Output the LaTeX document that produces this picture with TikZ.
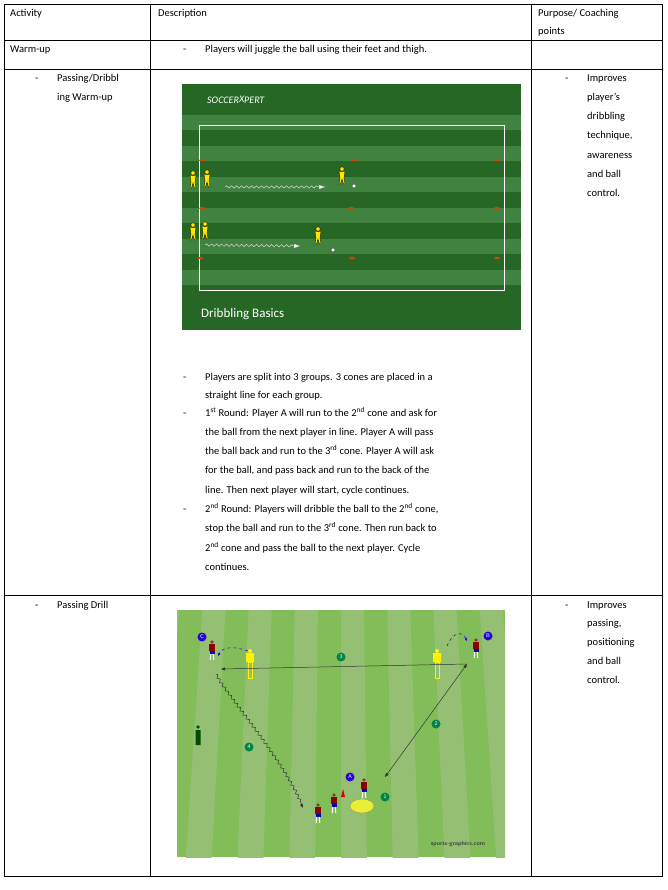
\documentclass[tikz,border=0pt]{standalone}
\usepackage{fontspec}
\setmainfont{Carlito}
\usetikzlibrary{decorations.pathmorphing,arrows.meta}
\begin{document}
\begin{tikzpicture}[x=1pt,y=-1pt,
  txt/.style={anchor=base west,inner sep=0pt,font=\fontsize{10.5}{13}\selectfont},
  grid/.style={line width=0.8pt},
  cone/.style={fill=orange!70!red!80!black,draw=none},
  wav/.style={draw=white!85!black,line width=0.5pt,decorate,decoration={snake,amplitude=1.2pt,segment length=5pt,post length=6pt},-{Triangle[length=6pt,width=4pt,fill=white]}},
  ypl/.pic={\fill[yellow!90!orange,draw=black,line width=0.3pt] (0,-9) circle (2.2) (-3,-6.5) -- (3,-6.5) -- (2,0) -- (3,6) -- (1.5,6) -- (0,1) -- (-1.5,6) -- (-3,6) -- (-2,0) -- cycle;},
  rpl/.pic={\fill[brown!60!black] (0,-10) circle (1.8);\fill[red!55!black] (-3,-8) rectangle (3,-1);\fill[blue!70!black] (-2.5,-1) rectangle (2.5,2);\draw[white,line width=1pt] (-1.3,2) -- (-1.8,8) (1.3,2) -- (1.8,8);},
  lab/.style={circle,inner sep=0pt,minimum size=9pt,font=\fontsize{5.5}{6}\sffamily\selectfont,text=white},
  blab/.style={lab,fill=blue!70!violet},
  glab/.style={lab,fill=teal!70!green!80!black},
  pth/.style={line width=0.5pt,black!80}]
\useasboundingbox (0,0) rectangle (668,890);
\fill[white] (0,0) rectangle (668,890);
% table
\draw[grid] (4,4) rectangle (662,876);
\draw[grid] (150,4) -- (150,876) (531,4) -- (531,876);
\draw[grid] (4,40) -- (662,40) (4,69) -- (662,69) (4,595) -- (662,595);
\node[txt] (h1) at (10,17) {Activity};
\node[txt] (h2) at (158,17) {Description};
\node[txt] (h3) at (538,17) {Purpose/ Coaching};
\node[txt] (h3b) at (538,35) {points};
\node[txt] (w1) at (10,53) {Warm-up};
\node[txt] (w2d) at (183,53) {-};
\node[txt] (w2) at (205,53) {Players will juggle the ball using their feet and thigh.};
\node[txt] (p1d) at (35,82) {-};
\node[txt] (p1) at (57,82) {Passing/Dribbl};
\node[txt] (p1b) at (57,101) {ing Warm-up};
\node[txt] (r1d) at (565,82) {-};
\foreach \t [count=\i from 0] in {Improves,player’s,dribbling,technique,,awareness,and ball,control.}{}
\node[txt] (r1a) at (587,82) {Improves};
\node[txt] (r1b) at (587,101) {player’s};
\node[txt] (r1c) at (587,120) {dribbling};
\node[txt] (r1e) at (587,139) {technique,};
\node[txt] (r1f) at (587,159) {awareness};
\node[txt] (r1g) at (587,178) {and ball};
\node[txt] (r1h) at (587,197) {control.};
% description bullets
\node[txt] (d1) at (183,380) {-};
\node[txt] (d1t) at (205,380) {Players are split into 3 groups. 3 cones are placed in a};
\node[txt] (d1u) at (205,398) {straight line for each group.};
\node[txt] (d2) at (183,416) {-};
\node[txt] (d2t) at (205,416) {1\textsuperscript{st} Round: Player A will run to the 2\textsuperscript{nd} cone and ask for};
\node[txt] (d2u) at (205,435) {the ball from the next player in line. Player A will pass};
\node[txt] (d2v) at (205,454) {the ball back and run to the 3\textsuperscript{rd} cone. Player A will ask};
\node[txt] (d2w) at (205,473) {for the ball, and pass back and run to the back of the};
\node[txt] (d2x) at (205,493) {line. Then next player will start, cycle continues.};
\node[txt] (d3) at (183,512) {-};
\node[txt] (d3t) at (205,512) {2\textsuperscript{nd} Round: Players will dribble the ball to the 2\textsuperscript{nd} cone,};
\node[txt] (d3u) at (205,531) {stop the ball and run to the 3\textsuperscript{rd} cone. Then run back to};
\node[txt] (d3v) at (205,551) {2\textsuperscript{nd} cone and pass the ball to the next player. Cycle};
\node[txt] (d3w) at (205,570) {continues.};
% row 4
\node[txt] (q1d) at (35,608) {-};
\node[txt] (q1) at (57,608) {Passing Drill};
\node[txt] (q2d) at (565,608) {-};
\node[txt] (q2a) at (587,608) {Improves};
\node[txt] (q2b) at (587,626) {passing,};
\node[txt] (q2c) at (587,645) {positioning};
\node[txt] (q2d2) at (587,664) {and ball};
\node[txt] (q2e) at (587,683) {control.};
% picture 1
\fill[green!30!black!85] (182,84) rectangle (521,330);
\foreach \y in {115,146,177,208,239,270}{\fill[green!35!black!75] (182,\y) rectangle (521,\y+15);}
\fill[green!30!black!85] (182,300) rectangle (521,330);
\draw[white,line width=1pt] (199,126) rectangle (504,290);
\node[anchor=west,text=white,font=\itshape\fontsize{10}{10}\selectfont,inner sep=0] (logo) at (207,100) {SOCCER\raisebox{1pt}{X}PERT};
\node[anchor=west,text=white,font=\fontsize{13}{13}\selectfont,inner sep=0] (tt) at (201,314) {Dribbling Basics};
\foreach \x/\y in {202/160,354/160,497/160,202/208,351/208,497/208,200/258,352/258,497/258}{\fill[cone] (\x-3,\y+1) -- (\x-2,\y-1) -- (\x+2,\y-1) -- (\x+3,\y+1) -- cycle;}
\foreach \x/\y in {193/182,207/181,193/234,205/233,342/178,318/238}{\pic at (\x,\y) {ypl};}
\coordinate (a1) at (225,187); \coordinate (a2) at (325,187);
\coordinate (b1) at (205,245); \coordinate (b2) at (300,246);
\draw[wav] (a1) -- (a2);
\draw[wav] (b1) -- (b2);
\fill[white,draw=black,line width=0.2pt] (354,186) circle (2) (333,250) circle (2);
% picture 2
\fill[green!45!lime!60!black!65] (177,610) rectangle (505,857);
\begin{scope}
\clip (177,610) rectangle (505,857);
\foreach \i in {-7,...,7}{\fill[green!40!lime!55!black!55] (341+\i*46,600) -- (341+\i*46+23,600) -- (341+\i*52+26,870) -- (341+\i*52,870) -- cycle;}
\end{scope}
\pic at (212,652) {rpl};
\pic at (476,650) {rpl};
\pic at (364,790) {rpl};
\pic at (334,805) {rpl};
\pic at (318,815) {rpl};
\fill[green!30!black] (198,727) circle (1.8) (195.5,730) rectangle (200.5,745);
\foreach \x in {250,437}{\fill[yellow] (\x,651) circle (2) (\x-4,653) rectangle (\x+4,662);\draw[yellow,line width=0.6pt] (\x-2,662) rectangle (\x+2,678);}
\fill[yellow!60!lime!80!white,draw=yellow!50!black,line width=0.3pt] (362,806) ellipse (12 and 7);
\fill[red!85!black] (341,797) -- (343,789) -- (345,797) -- cycle;
\node[blab] (C) at (202,637) {C};
\node[blab] (B) at (488,636) {B};
\node[blab] (A) at (350,777) {A};
\node[glab] (n1) at (385,797) {1};
\node[glab] (n2) at (436,724) {2};
\node[glab] (n3) at (341,657) {3};
\node[glab] (n4) at (249,747) {4};
\coordinate (pB) at (467,664);
\coordinate (pC) at (221,669);
\coordinate (pA) at (385,777);
\coordinate (pC2) at (216,674);
\coordinate (pA2) at (303,808);
\draw[pth,-{Triangle[length=4pt,width=3pt]}] (pB) -- (pC);
\draw[pth,{Triangle[length=4pt,width=3pt]}-{Triangle[length=4pt,width=3pt]}] (pA) -- (pB);
\draw[pth,decorate,decoration={snake,amplitude=1.3pt,segment length=5pt,post length=5pt},-{Triangle[length=4pt,width=3pt]}] (pC2) .. controls (230,700) and (285,760) .. (pA2);
\draw[blue!70!violet,dashed,line width=0.5pt,-{Triangle[length=3pt,width=2.5pt]}] (248,651) .. controls (232,645) and (222,648) .. (218,656);
\draw[blue!70!violet,dashed,line width=0.5pt,-{Triangle[length=3pt,width=2.5pt]}] (447,646) .. controls (452,633) and (462,630) .. (467,641);
\node[anchor=base,font=\bfseries\sffamily\fontsize{6}{6}\selectfont,text=black!75,inner sep=0] (sg) at (458,845) {sports-graphics.com};
\end{tikzpicture}
\end{document}
